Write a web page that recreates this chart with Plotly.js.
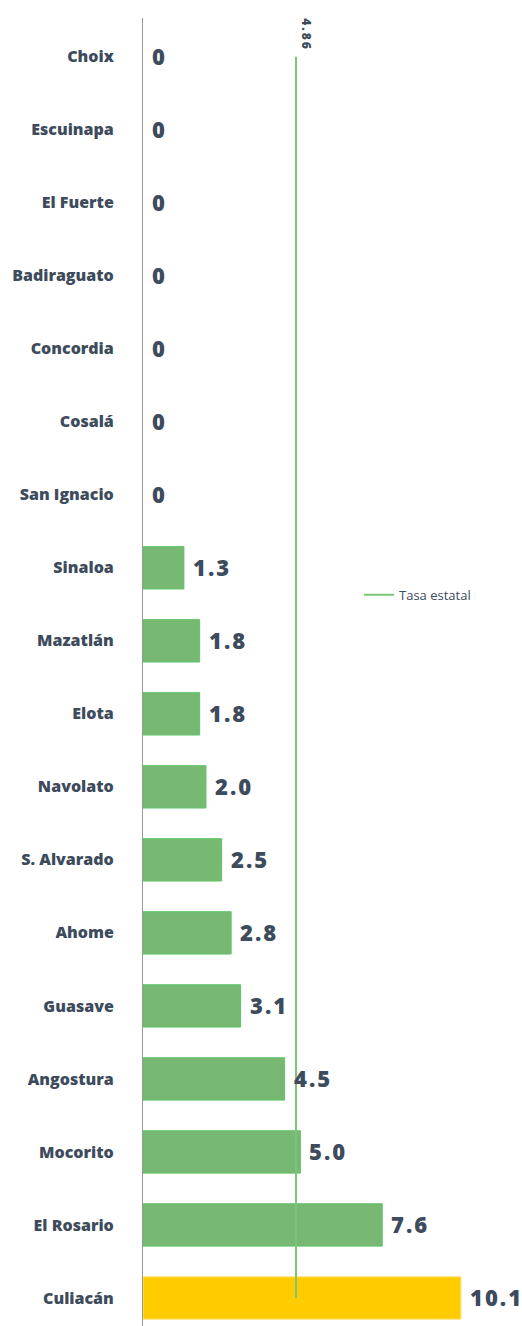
<!DOCTYPE html>
<html><head><meta charset="utf-8">
<script src="https://cdn.plot.ly/plotly-3.0.1.min.js"></script>
<style>html,body{margin:0;padding:0;background:#fff}#c{width:522px;height:1326px}
text.annotation-text{letter-spacing:2px}
</style>
</head><body><div id="c"></div>
<script>
// Bottom to top order
const municipios = ["Culiacán","El Rosario","Mocorito","Angostura","Guasave","Ahome","S. Alvarado","Navolato","Elota","Mazatlán","Sinaloa","San Ignacio","Cosalá","Concordia","Badiraguato","El Fuerte","Escuinapa","Choix"];
const tasas = [10.1,7.6,5.0,4.5,3.1,2.8,2.5,2.0,1.8,1.8,1.3,0,0,0,0,0,0,0];
const tasaEstatal = 4.86;
const etiquetaEstatal = "Tasa estatal";

const txtColor = "#3d4b5c";
const barColors = municipios.map(m => m === "Culiacán" ? "#ffcc00" : "#77b972");
const lineColors = municipios.map(m => m === "Culiacán" ? "#ffe27a" : "#5cc466");
const lineWidths = tasas.map(v => v === 0 ? 0 : 1);
const labels = tasas.map(v => v === 0 ? "0" : v.toFixed(1));

const bars = {
  type: "bar", orientation: "h",
  y: municipios, x: tasas,
  marker: {color: barColors, line: {color: lineColors, width: lineWidths}},
  showlegend: false, hoverinfo: "none"
};
const line = {
  type: "scatter", mode: "lines",
  x: [tasaEstatal, tasaEstatal], y: [municipios[0], municipios[municipios.length-1]],
  line: {color: "#7cc47a", width: 2},
  name: etiquetaEstatal, showlegend: true, cliponaxis: false
};
const valueAnns = municipios.map((m, i) => ({
  x: tasas[i], y: m, xref: "x", yref: "y", text: labels[i],
  showarrow: false, xanchor: "left", yanchor: "middle", xshift: 7, yshift: 1,
  font: {family: "Open Sans", size: 22, color: txtColor, weight: 900}
}));
const layout = {
  width: 522, height: 1326,
  margin: {l: 143, r: 0, t: 18, b: 0},
  paper_bgcolor: "#fff", plot_bgcolor: "#fff",
  bargap: 0.42,
  xaxis: {range: [0, 12.04], showgrid: false, zeroline: false, showticklabels: false, showline: false, fixedrange: true},
  yaxis: {type: "category", range: [-0.384, 17.53], showgrid: false, zeroline: false,
          showline: true, linecolor: "#999", linewidth: 1, ticks: "", ticklabelstandoff: 25,
          tickfont: {family: "Open Sans", size: 16, color: txtColor, weight: 900}},
  legend: {x: 0.57, y: 0.559, xanchor: "left", yanchor: "middle", bgcolor: "rgba(0,0,0,0)",
           font: {family: "Open Sans", size: 13, color: txtColor}},
  annotations: valueAnns.concat([{x: tasaEstatal, y: municipios[municipios.length-1], xref: "x", yref: "y",
     text: String(tasaEstatal), textangle: 90, showarrow: false, yanchor: "bottom", xanchor: "center",
     yshift: 3, xshift: 11, font: {family: "Open Sans", size: 12, color: txtColor, weight: 900}}]),
  showlegend: true
};
Plotly.newPlot("c", [bars, line], layout, {displayModeBar: false, staticPlot: true});
</script></body></html>
